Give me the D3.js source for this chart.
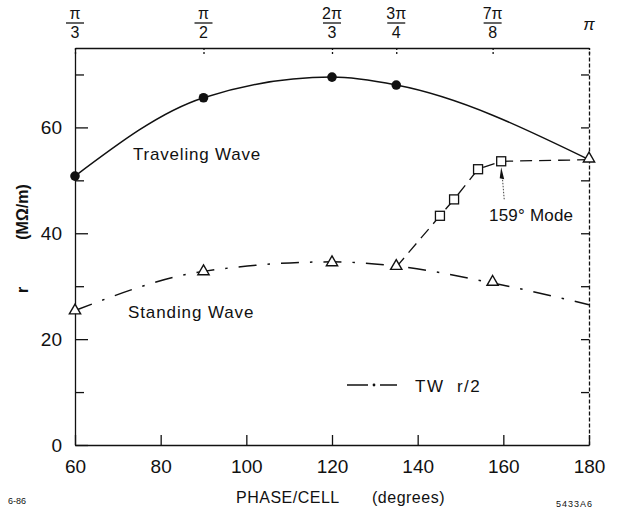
<!DOCTYPE html>
<html>
<head>
<meta charset="utf-8">
<script src="https://cdn.jsdelivr.net/npm/d3@7"></script>
<style>
  body { margin: 0; background: #fff; }
  svg { display: block; }
  text { font-family: "Liberation Sans", Arial, sans-serif; fill: #111; }
  .axis path, .axis line { stroke: #111; stroke-width: 1.3; }
</style>
</head>
<body>
<div class="container"></div>
<script>
var width = 618;
var height = 513;

// traveling wave (filled circles), last point is the curve end at pi
var twPhase = [60, 90, 120, 135, 180];
var twR = [50.8, 65.6, 69.5, 68.0, 53.9];
var twMarked = [true, true, true, true, false];

// standing wave (open triangles)
var swPhase = [60, 90, 120, 135, 157.5, 180];
var swR = [25.2, 32.6, 34.3, 33.6, 30.6, 53.9];

// TW r/2 (dash-dot)
var halfPhase = [60, 90, 120, 135, 157.5, 180];
var halfR = [25.4, 32.8, 34.6, 33.8, 30.6, 26.5];

// 159 degree mode (open squares, dashed), from the 3pi/4 triangle to the pi triangle
var modePhase = [135, 145.2, 148.5, 154.1, 159.5, 180];
var modeR = [33.6, 43.3, 46.4, 52.1, 53.6, 53.9];
var modeMarked = [false, true, true, true, true, false];

var xTicks = [60, 80, 100, 120, 140, 160, 180];
var yMajor = [0, 20, 40, 60];
var yMinor = [10, 30, 50, 70];
var rightTicks = [10, 20, 30, 40, 50, 60, 70];
var topTicks = [60, 90, 120, 135, 157.5, 180];
var topNum = ["\u03c0", "\u03c0", "2\u03c0", "3\u03c0", "7\u03c0", "\u03c0"];
var topDen = ["3", "2", "3", "4", "8", ""];

var plotLeft = 75, plotRight = 589, plotTop = 48, plotBottom = 445;

var x = d3.scaleLinear().domain([60, 180]).range([plotLeft, plotRight]);
var y = d3.scaleLinear().domain([0, 75]).range([plotBottom, plotTop]);

var translate = function(a, b) {
    return 'translate(' + a + ',' + b + ')';
};

var svg = d3.select('.container').append('svg')
    .attr('width', width)
    .attr('height', height);

// axes
var bottomAxis = svg.append('g').classed('axis', true)
    .attr('transform', translate(0, plotBottom))
    .call(d3.axisBottom(x).tickValues(xTicks).tickSizeInner(-10).tickSizeOuter(0).tickPadding(15));
bottomAxis.selectAll('text').attr('font-size', 19).attr('dy', '0.71em');

var leftAxis = svg.append('g').classed('axis', true)
    .attr('transform', translate(plotLeft, 0))
    .call(d3.axisLeft(y).tickValues(yMajor).tickSizeInner(-13).tickSizeOuter(0).tickPadding(13));
leftAxis.selectAll('text').attr('font-size', 19);

svg.append('g').classed('axis', true)
    .attr('transform', translate(plotLeft, 0))
    .call(d3.axisLeft(y).tickValues(yMinor).tickSizeInner(-9).tickSizeOuter(0).tickFormat(''))
    .select('.domain').remove();

var rightAxis = svg.append('g').classed('axis', true)
    .attr('transform', translate(plotRight, 0))
    .call(d3.axisRight(y).tickValues(rightTicks).tickSizeInner(-8).tickSizeOuter(0).tickFormat(''));
rightAxis.select('.domain').attr('stroke-dasharray', '4,2').attr('stroke-width', 1);

var topAxis = svg.append('g').classed('axis', true)
    .attr('transform', translate(0, plotTop))
    .call(d3.axisTop(x).tickValues(topTicks).tickSizeInner(-8).tickSizeOuter(0).tickFormat(''));
topAxis.selectAll('.tick line').attr('stroke-dasharray', '2,2').attr('stroke-width', 1);

// top fraction labels
topTicks.forEach(function(t, i) {
    var g = svg.append('g').attr('transform', translate(x(t), 0));
    if (topDen[i] === '') {
        g.append('text').attr('y', 30).attr('text-anchor', 'middle')
            .attr('font-size', 17).attr('font-style', 'italic').text(topNum[i]);
        return;
    }
    g.append('text').attr('y', 19).attr('text-anchor', 'middle')
        .attr('font-size', 16).text(topNum[i]);
    g.append('line').attr('x1', -9).attr('x2', 9).attr('y1', 23).attr('y2', 23)
        .attr('stroke', '#111').attr('stroke-width', 1.3);
    g.append('text').attr('y', 38).attr('text-anchor', 'middle')
        .attr('font-size', 16).text(topDen[i]);
});

// traveling wave
var twData = twPhase.map(function(p, i) { return {p: p, r: twR[i], m: twMarked[i]}; });
var smooth = d3.line()
    .x(function(d) { return x(d.p); })
    .y(function(d) { return y(d.r); })
    .curve(d3.curveMonotoneX);
svg.append('path').attr('d', smooth(twData))
    .attr('fill', 'none').attr('stroke', '#111').attr('stroke-width', 1.5);
svg.selectAll('.tw').data(twData.filter(function(d) { return d.m; }))
    .enter().append('circle')
    .attr('cx', function(d) { return x(d.p); })
    .attr('cy', function(d) { return y(d.r); })
    .attr('r', 4.8).attr('fill', '#111');

// TW r/2 dash-dot
var halfData = halfPhase.map(function(p, i) { return {p: p, r: halfR[i]}; });
svg.append('path').attr('d', smooth(halfData))
    .attr('fill', 'none').attr('stroke', '#111').attr('stroke-width', 1.5)
    .attr('stroke-dasharray', '18,11,2.5,11');

// 159 mode dashed
var modeData = modePhase.map(function(p, i) { return {p: p, r: modeR[i], m: modeMarked[i]}; });
var straight = d3.line()
    .x(function(d) { return x(d.p); })
    .y(function(d) { return y(d.r); });
svg.append('path').attr('d', straight(modeData))
    .attr('fill', 'none').attr('stroke', '#111').attr('stroke-width', 1.3)
    .attr('stroke-dasharray', '12,7');
svg.selectAll('.sq').data(modeData.filter(function(d) { return d.m; }))
    .enter().append('rect')
    .attr('x', function(d) { return x(d.p) - 4.5; })
    .attr('y', function(d) { return y(d.r) - 4.5; })
    .attr('width', 9).attr('height', 9)
    .attr('fill', '#fff').attr('stroke', '#111').attr('stroke-width', 1.3);

// standing wave triangles
var swData = swPhase.map(function(p, i) { return {p: p, r: swR[i]}; });
var tri = d3.symbol().type(d3.symbolTriangle).size(55);
svg.selectAll('.sw').data(swData)
    .enter().append('path')
    .attr('d', tri)
    .attr('transform', function(d) { return translate(x(d.p), y(d.r) - 1); })
    .attr('fill', '#fff').attr('stroke', '#111').attr('stroke-width', 1.4);

// 159 mode arrow
var ax = x(159.5), ay = y(53.6) + 6;
svg.append('line').attr('x1', ax + 3).attr('y1', ay + 32).attr('x2', ax + 1).attr('y2', ay + 8)
    .attr('stroke', '#111').attr('stroke-width', 0.8).attr('stroke-dasharray', '1.5,1.5');
svg.append('path')
    .attr('d', 'M' + ax + ',' + ay + 'L' + (ax + 3) + ',' + (ay + 12) + 'L' + (ax - 1.5) + ',' + (ay + 11) + 'Z')
    .attr('fill', '#111');

// labels
svg.append('text').attr('x', 133).attr('y', 160).attr('font-size', 17)
    .attr('letter-spacing', 0.8).text('Traveling Wave');
svg.append('text').attr('x', 128).attr('y', 318).attr('font-size', 17)
    .attr('letter-spacing', 0.9).text('Standing Wave');
svg.append('text').attr('x', 489).attr('y', 221).attr('font-size', 17)
    .attr('letter-spacing', 0.2).text('159\u00b0 Mode');

// legend
svg.append('line').attr('x1', 347).attr('x2', 368).attr('y1', 385).attr('y2', 385)
    .attr('stroke', '#111').attr('stroke-width', 1.5);
svg.append('circle').attr('cx', 374).attr('cy', 385).attr('r', 1.4).attr('fill', '#111');
svg.append('line').attr('x1', 380).attr('x2', 397).attr('y1', 385).attr('y2', 385)
    .attr('stroke', '#111').attr('stroke-width', 1.5);
svg.append('text').attr('x', 415).attr('y', 392).attr('font-size', 17)
    .attr('letter-spacing', 1.5).style('white-space', 'pre').text('TW  r/2');

// axis titles
svg.append('text').attr('x', 236).attr('y', 503).attr('font-size', 16)
    .attr('letter-spacing', 0.5).text('PHASE/CELL');
svg.append('text').attr('x', 372).attr('y', 503).attr('font-size', 16)
    .attr('letter-spacing', 0.5).text('(degrees)');

svg.append('text').attr('transform', 'translate(28,212) rotate(-90)')
    .attr('text-anchor', 'middle').attr('font-size', 16).attr('font-weight', 'bold')
    .text('(M\u03a9/m)');
svg.append('text').attr('transform', 'translate(28,290) rotate(-90)')
    .attr('text-anchor', 'middle').attr('font-size', 16).attr('font-weight', 'bold')
    .text('r');

svg.append('text').attr('x', 8).attr('y', 504).attr('font-size', 9).text('6-86');
svg.append('text').attr('x', 556).attr('y', 507).attr('font-size', 9)
    .attr('letter-spacing', 1).text('5433A6');
</script>
</body>
</html>
